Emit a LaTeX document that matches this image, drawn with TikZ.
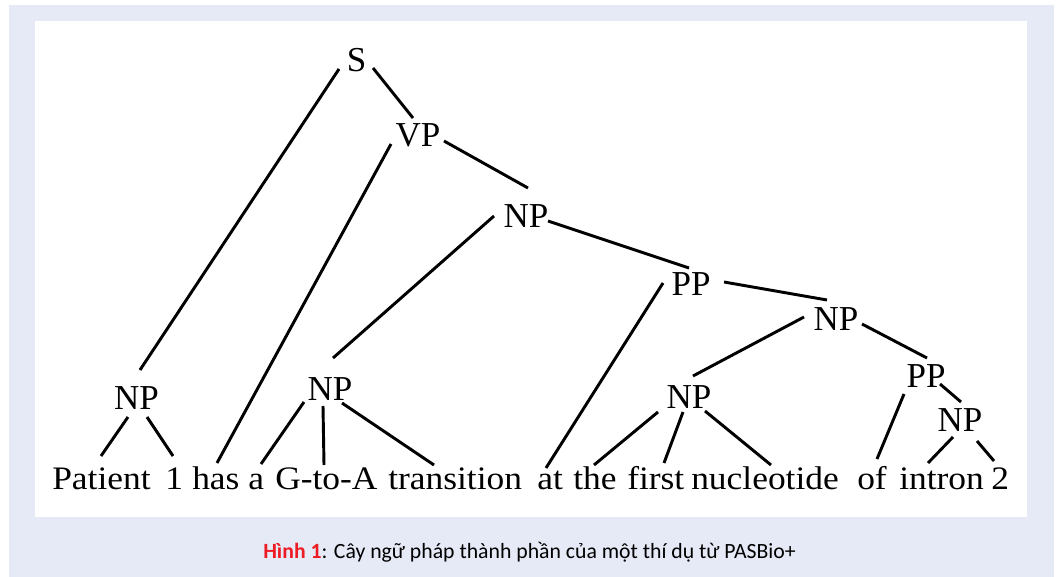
\documentclass[tikz,border=0pt]{standalone}
\usepackage{fontspec}
\usetikzlibrary{calc}
\newfontfamily\wordfont[FakeStretch=1.08]{Liberation Serif}
\newfontfamily\labfont{Liberation Serif}
\newfontfamily\capfont{Carlito}
\definecolor{bgl}{RGB}{230,234,246}
\definecolor{capred}{RGB}{237,28,36}
\begin{document}
\begin{tikzpicture}[x=0.75pt,y=-0.75pt,
  lab/.style={font=\labfont\fontsize{26.25}{30}\selectfont, anchor=base, inner sep=0},
  wd/.style={font=\wordfont\fontsize{24.6}{28}\selectfont, anchor=base west, inner sep=0},
  br/.style={line width=2.2pt},
  captext/.style={font=\capfont\fontsize{16.3}{18}\selectfont, anchor=base west, inner sep=0}]
\useasboundingbox (0,0) rectangle (1059,577);
\fill[white] (0,0) rectangle (1059,577);
\fill[bgl] (9,5) rectangle (1054,577);
\fill[white] (35,21) rectangle (1027,517);
% labels
\node[lab] (S)   at (356.5,72) {S};
\node[lab] (VP)  at (418,147) {VP};
\node[lab] (NPa) at (526,228) {NP};
\node[lab] (PPa) at (691,295) {PP};
\node[lab] (NPb) at (836,330) {NP};
\node[lab] (NP1) at (136.5,409) {NP};
\node[lab] (NP2) at (330,400) {NP};
\node[lab] (NP3) at (689,408) {NP};
\node[lab] (PP2) at (926,387) {PP};
\node[lab] (NP4) at (960,431) {NP};
% words
\node[wd] (w1)  at (52,489) {Patient};
\node[wd] (w2)  at (165,489) {1};
\node[wd] (w3)  at (192,489) {has};
\node[wd] (w4)  at (248,489) {a};
\node[wd] (w5)  at (275,489) {G-to-A};
\node[wd] (w6)  at (388,489) {transition};
\node[wd] (w7)  at (537,489) {at};
\node[wd] (w8)  at (573,489) {the};
\node[wd] (w9)  at (627,489) {first};
\node[wd] (w10) at (691,489) {nucleotide};
\node[wd] (w11) at (857,489) {of};
\node[wd] (w12) at (899,489) {intron};
\node[wd] (w13) at (991,489) {2};
% branches
\draw[br] ($(S.base)+(-17.5,-3)$) -- ($(NP1.base)+(3.5,-39)$);
\draw[br] ($(S.base)+(16.5,-4)$) -- ($(VP.base)+(-5,-29)$);
\draw[br] ($(VP.base)+(-27,-3)$) -- ($(w3.base west)+(25,-26)$);
\draw[br] ($(VP.base)+(26,-6)$) -- ($(NPa.base)+(2,-40)$);
\draw[br] ($(NPa.base)+(-32,-12)$) -- ($(NP2.base)+(3,-42)$);
\draw[br] ($(NPa.base)+(22,-7)$) -- ($(PPa.base)+(-2,-27)$);
\draw[br] ($(PPa.base)+(-28,-12)$) -- ($(w7.base west)+(9,-21)$);
\draw[br] ($(PPa.base)+(33,-13)$) -- ($(NPb.base)+(-9,-30)$);
\draw[br] ($(NPb.base)+(-32,-13)$) -- ($(NP3.base)+(4,-32)$);
\draw[br] ($(NPb.base)+(26,-6)$) -- ($(PP2.base)+(1,-29)$);
\draw[br] ($(PP2.base)+(-22,7)$) -- ($(w11.base west)+(20,-30)$);
\draw[br] ($(PP2.base)+(14,-3)$) -- ($(NP4.base)+(1,-29)$);
\draw[br] ($(NP1.base)+(-8.5,8)$) -- ($(w1.base west)+(49,-33)$);
\draw[br] ($(NP1.base)+(10.5,8)$) -- ($(w2.base west)+(8,-33)$);
\draw[br] ($(NP2.base)+(-26,2)$) -- ($(w4.base west)+(13,-25)$);
\draw[br] ($(NP2.base)+(-7,6)$) -- ($(w5.base west)+(49,-24)$);
\draw[br] ($(NP2.base)+(12,3)$) -- ($(w6.base west)+(46,-24)$);
\draw[br] ($(NP3.base)+(-31,4)$) -- ($(w8.base west)+(21,-24)$);
\draw[br] ($(NP3.base)+(-6,4)$) -- ($(w9.base west)+(37,-26)$);
\draw[br] ($(NP3.base)+(16,3)$) -- ($(w10.base west)+(80,-24)$);
\draw[br] ($(NP4.base)+(-7,6)$) -- ($(w12.base west)+(29,-26)$);
\draw[br] ($(NP4.base)+(17,10)$) -- ($(w13.base west)+(3,-28)$);
% caption
\node[captext] (cap) at (263,558) {\textcolor{capred}{\bfseries Hình 1}: Cây ngữ pháp thành phần của một thí dụ từ PASBio+};
\end{tikzpicture}
\end{document}
